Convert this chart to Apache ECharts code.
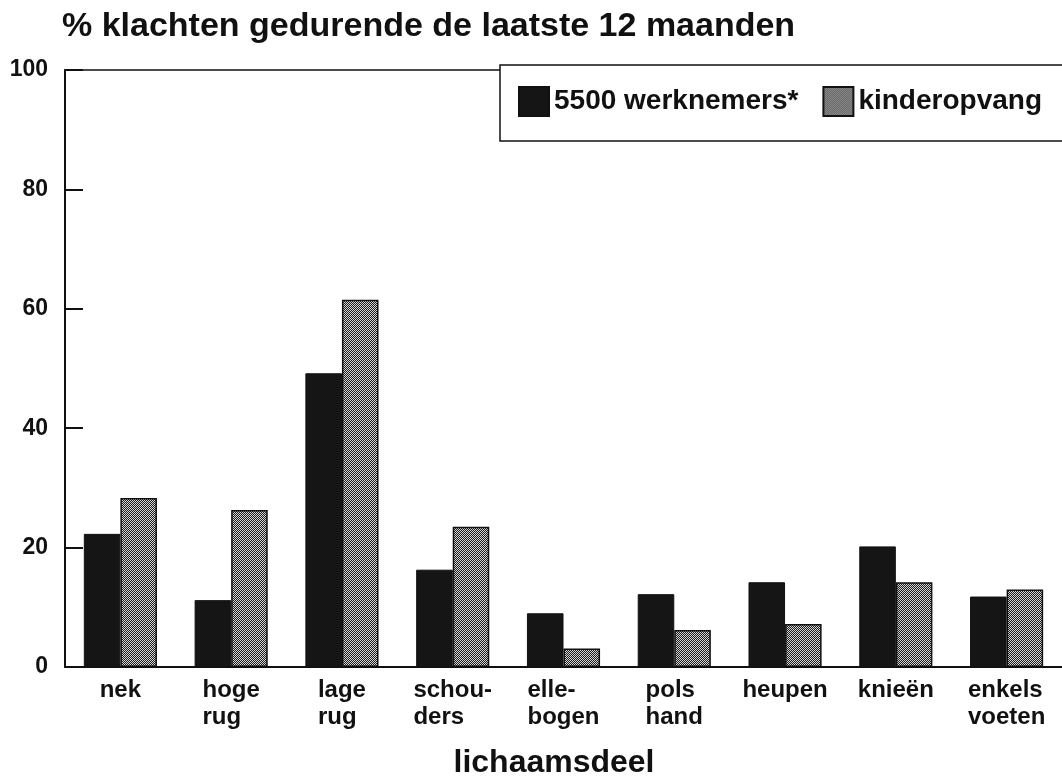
<!DOCTYPE html>
<html>
<head>
<meta charset="utf-8">
<script src="https://cdn.jsdelivr.net/npm/echarts@6/dist/echarts.min.js"></script>
<style>
  html, body { margin: 0; padding: 0; background: #fff; }
  #chart { width: 1062px; height: 784px; }
</style>
</head>
<body>
<div id="chart"></div>
<script>
var categories = ['nek', 'hoge\nrug', 'lage\nrug', 'schou-\nders', 'elle-\nbogen', 'pols\nhand', 'heupen', 'knieën', 'enkels\nvoeten'];
var werknemers = [22.3, 11.2, 49.2, 16.3, 9.0, 12.2, 14.2, 20.2, 11.8];
var kinderopvang = [28.3, 26.3, 61.5, 23.5, 3.1, 6.2, 7.2, 14.2, 13.0];
var seriesNames = ['5500 werknemers*', 'kinderopvang'];

// checker fill for the light bars
function makePattern() {
    var c = document.createElement('canvas');
    c.width = 2;
    c.height = 2;
    var ctx = c.getContext('2d');
    ctx.fillStyle = '#1c1c1c';
    ctx.fillRect(0, 0, 2, 2);
    ctx.fillStyle = '#d6d6d6';
    ctx.fillRect(0, 0, 1, 1);
    ctx.fillRect(1, 1, 1, 1);
    return c;
}

var font = 'Liberation Sans, Arial, Helvetica, sans-serif';
var chart = echarts.init(document.getElementById('chart'));

var option = {
    backgroundColor: '#fff',
    animation: false,
    title: {
        text: '% klachten gedurende de laatste 12 maanden',
        left: 62,
        top: 10,
        padding: 0,
        textStyle: { fontFamily: font, fontSize: 34, fontWeight: 'bold', color: '#111' }
    },
    graphic: [{
        type: 'rect',
        z: 3,
        shape: { x: 500, y: 65, width: 600, height: 76 },
        style: { fill: '#fff', stroke: '#111', lineWidth: 1.5 }
    }],
    legend: {
        data: seriesNames,
        left: 518,
        top: 86,
        padding: 0,
        z: 5,
        itemWidth: 30,
        itemHeight: 29,
        itemGap: 24,
        icon: 'rect',
        textStyle: { fontFamily: font, fontSize: 28, fontWeight: 'bold', color: '#111' }
    },
    grid: { left: 65, right: -8, top: 70, bottom: 116, containLabel: false },
    xAxis: [{
        type: 'category',
        data: categories,
        position: 'bottom',
        axisLine: { lineStyle: { color: '#111', width: 2 } },
        axisTick: { show: false },
        axisLabel: {
            interval: 0,
            margin: 10,
            formatter: function (v) {
                return v.split('\n').map(function (s) { return '{a|' + s + '}'; }).join('\n');
            },
            rich: {
                a: { align: 'left', fontFamily: font, fontSize: 24, fontWeight: 'bold', color: '#111', lineHeight: 27 }
            }
        },
        name: 'lichaamsdeel',
        nameLocation: 'middle',
        nameGap: 80,
        nameTextStyle: { fontFamily: font, fontSize: 32, fontWeight: 'bold', color: '#111', padding: [0, 19, 0, 0] }
    }, {
        type: 'category',
        data: categories,
        position: 'top',
        axisLine: { lineStyle: { color: '#111', width: 1.5 } },
        axisTick: { show: false },
        axisLabel: { show: false }
    }],
    yAxis: {
        type: 'value',
        min: 0,
        max: 100,
        interval: 20,
        axisLine: { show: true, lineStyle: { color: '#111', width: 2 } },
        axisTick: { show: true, inside: true, length: 18, lineStyle: { color: '#111', width: 2 } },
        splitLine: { show: false },
        axisLabel: { margin: 17, fontFamily: font, fontSize: 23, fontWeight: 'bold', color: '#111' }
    },
    series: [{
        name: seriesNames[0],
        type: 'bar',
        data: werknemers,
        barGap: '0%',
        barCategoryGap: '34%',
        itemStyle: { color: '#151515', borderColor: '#111', borderWidth: 1 }
    }, {
        name: seriesNames[1],
        type: 'bar',
        data: kinderopvang,
        itemStyle: { color: { image: makePattern(), repeat: 'repeat' }, borderColor: '#111', borderWidth: 1.5 }
    }]
};
chart.setOption(option);
</script>
</body>
</html>
